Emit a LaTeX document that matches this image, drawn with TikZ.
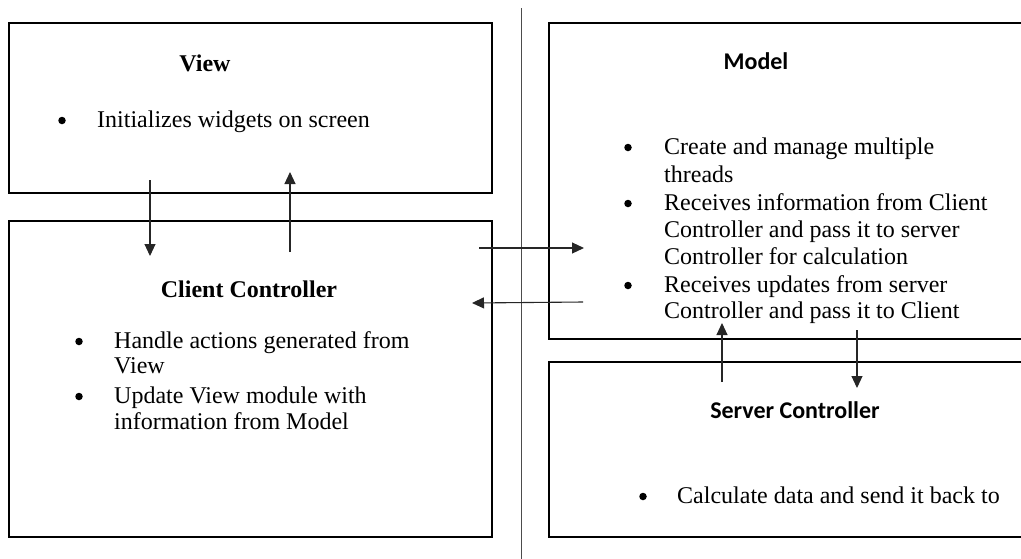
\documentclass[tikz,border=0pt]{standalone}
\usepackage{fontspec}
\setmainfont{Liberation Serif}
\newfontfamily\headsans{Carlito}
\usetikzlibrary{arrows.meta}

\begin{document}
\begin{tikzpicture}[x=1pt,y=-1pt,
  box/.style={draw=black,line width=2pt,inner sep=0pt,outer sep=0pt,anchor=north west,rectangle},
  bodyfont/.style={font=\fontsize{24}{27}\selectfont},
  textline/.style={bodyfont,anchor=base west,inner sep=0pt},
  bulletmark/.style={circle,fill=black,draw=none,inner sep=0pt,minimum size=7.5pt},
  serifhead/.style={font=\fontsize{24}{27}\selectfont\bfseries,anchor=base,inner sep=0pt},
  sanshead/.style={font=\fontsize{24}{27}\selectfont\headsans\bfseries,anchor=base,inner sep=0pt},
  flow/.style={draw=black!85,line width=1.1pt,-{Triangle[length=12pt,width=11pt]}},
  divider/.style={draw=black!70,line width=1pt}]

\useasboundingbox (0,0) rectangle (1021,558);
\clip (0,0) rectangle (1021,558);

% boxes
\node[box,minimum width=483pt,minimum height=170pt] (view) at (9,23) {};
\node[box,minimum width=483pt,minimum height=316pt] (client) at (9,221) {};
\node[box,minimum width=500pt,minimum height=316pt] (model) at (549,23) {};
\node[box,minimum width=500pt,minimum height=175pt] (server) at (549,362) {};

% separator between client side and server side
\coordinate (divtop) at (521,8);
\coordinate (divbot) at (521,562);
\draw[divider] (divtop) -- (divbot);

% View
\node[serifhead] (viewhead) at (205,71) {View};
\node[bulletmark] (vb1) at (62,120.5) {};
\node[textline] (vt1) at (97,127) {Initializes widgets on screen};

% Client Controller
\node[serifhead] (clienthead) at (249,297) {Client Controller};
\node[bulletmark] (cb1) at (79,341.5) {};
\node[textline] (ct1) at (114,348) {Handle actions generated from};
\node[textline] (ct2) at (114,373) {View};
\node[bulletmark] (cb2) at (79,396.5) {};
\node[textline] (ct3) at (114,403) {Update View module with};
\node[textline] (ct4) at (114,429) {information from Model};

% Model
\node[sanshead] (modelhead) at (756,69) {Model};
\node[bulletmark] (mb1) at (628,147.5) {};
\node[textline] (mt1) at (664,154) {Create and manage multiple};
\node[textline] (mt2) at (664,182) {threads};
\node[bulletmark] (mb2) at (628,203.5) {};
\node[textline] (mt3) at (664,210) {Receives information from Client};
\node[textline] (mt4) at (664,237) {Controller and pass it to server};
\node[textline] (mt5) at (664,264) {Controller for calculation};
\node[bulletmark] (mb3) at (628,285.5) {};
\node[textline] (mt6) at (664,292) {Receives updates from server};
\node[textline] (mt7) at (664,318) {Controller and pass it to Client};

% Server Controller
\node[sanshead] (serverhead) at (795,418) {Server Controller};
\node[bulletmark] (sb1) at (643,496.5) {};
\node[textline] (st1) at (677,503) {Calculate data and send it back to};

% connector end points
\coordinate (vcA) at (150,180);
\coordinate (vcB) at (150,256);
\coordinate (cvA) at (290,252);
\coordinate (cvB) at (290,172);
\coordinate (cmA) at (479,248);
\coordinate (cmB) at (584,248);
\coordinate (mcA) at (583,302);
\coordinate (mcB) at (472,303);
\coordinate (smA) at (722,382);
\coordinate (smB) at (722,323);
\coordinate (msA) at (857,330);
\coordinate (msB) at (857,388);

% connectors
\draw[flow] (vcA) -- (vcB);
\draw[flow] (cvA) -- (cvB);
\draw[flow] (cmA) -- (cmB);
\draw[flow] (mcA) -- (mcB);
\draw[flow] (smA) -- (smB);
\draw[flow] (msA) -- (msB);
\end{tikzpicture}
\end{document}
